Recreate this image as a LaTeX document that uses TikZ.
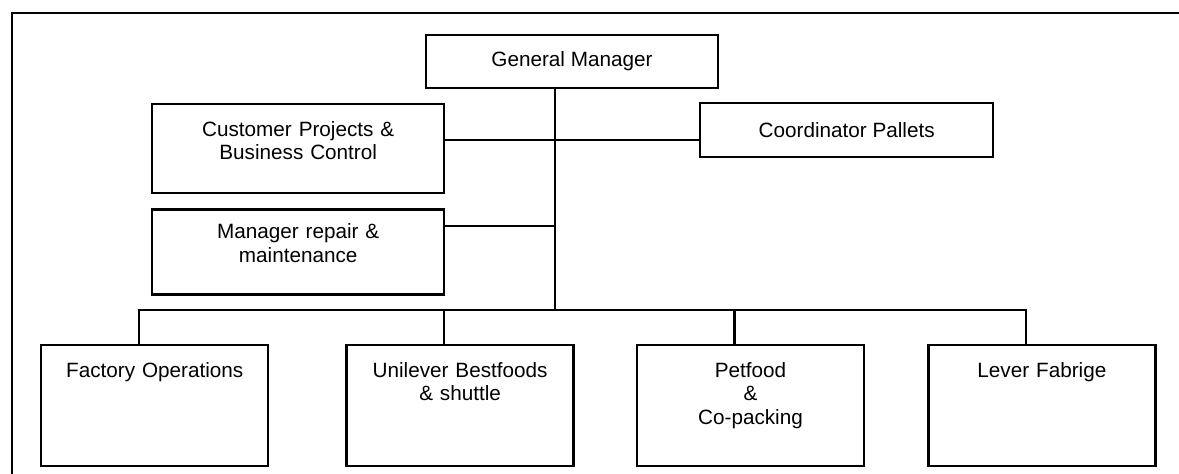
\documentclass[tikz,border=0pt]{standalone}
\usepackage{fontspec}
\setmainfont{Liberation Sans}
\usetikzlibrary{positioning}

\begin{document}
\begin{tikzpicture}[
    x=1pt, y=-1pt,
    headbox/.style={rectangle, draw=black, line width=2.4pt, text centered, minimum width=292pt, minimum height=53pt, font={\fontsize{20.7}{23.5}\selectfont}},
    staffbox/.style={rectangle, draw=black, line width=2.4pt, text centered, text width=270pt, minimum width=292pt, inner ysep=17pt, text height=15pt, text depth=40pt, font={\fontsize{20.7}{23.5}\selectfont}},
    unitbox/.style={rectangle, draw=black, line width=2.4pt, text centered, text width=210pt, minimum width=227pt, inner ysep=17pt, text height=15pt, text depth=72pt, font={\fontsize{20.7}{23.5}\selectfont}},
    line/.style={draw=black, line width=2.4pt}
]
\useasboundingbox (0,0) rectangle (1179,474);

% Frame
\draw[line] (12,474) -- (12,13) -- (1179,13);

% Nodes
\node[headbox] (gm) at (572,61.5) {General Manager};
\node[staffbox, anchor=north west] (cpbc) at (151,103) {Customer Projects \&\\Business Control};
\node[staffbox, below=14pt of cpbc, inner ysep=14pt, text depth=42pt] (mrm) {Manager repair \&\\maintenance};
\node[headbox, anchor=north west, minimum width=293pt, minimum height=54pt] (cp) at (699,102) {Coordinator Pallets};

\node[unitbox, anchor=north west] (fo) at (40,344) {Factory Operations};
\node[unitbox, right=76pt of fo] (ub) {Unilever Bestfoods\\\& shuttle};
\node[unitbox, right=61pt of ub] (pc) {Petfood\\\&\\Co-packing};
\node[unitbox, right=62pt of pc] (lf) {Lever Fabrige};

\coordinate (hub) at (555,310);
\coordinate (tapcp) at (555,140);
\coordinate (tapmr) at (555,226);

% Connections
\draw[line] (gm.south -| hub) -- (hub);
\draw[line] (cpbc.east |- tapcp) -- (cp.west |- tapcp);
\draw[line] (mrm.east |- tapmr) -- (tapmr);
\draw[line] ([xshift=-16pt]fo.north) |- ([xshift=-16pt]lf.north |- hub) -- ([xshift=-16pt]lf.north);
\draw[line] ([xshift=-16pt]ub.north) -- ([xshift=-16pt]ub.north |- hub);
\draw[line] ([xshift=-16pt]pc.north) -- ([xshift=-16pt]pc.north |- hub);

\end{tikzpicture}
\end{document}
